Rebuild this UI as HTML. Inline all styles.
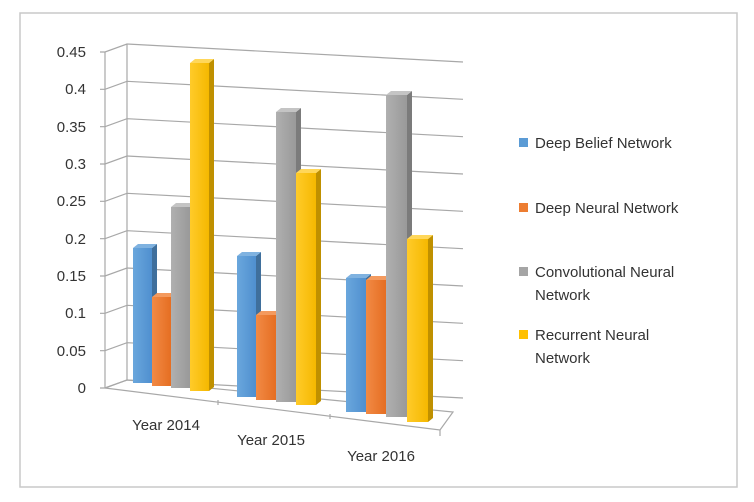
<!DOCTYPE html>
<html><head><meta charset="utf-8"><style>
html,body{margin:0;padding:0;background:#fff;}
svg{display:block;font-family:"Liberation Sans",sans-serif;}
</style></head><body>
<svg width="754" height="502" viewBox="0 0 754 502" xmlns="http://www.w3.org/2000/svg">
<rect x="20" y="13" width="717" height="474" fill="#fff" stroke="#c8c8c8" stroke-width="1.5"/>
<g stroke="#a8a8a8" stroke-width="1.2" fill="none">
<polyline points="100,388 105,388 127,380 463,398"/>
<polyline points="100,350.7 105,350.7 127,342.7 463,360.7"/>
<polyline points="100,313.3 105,313.3 127,305.3 463,323.3"/>
<polyline points="100,276 105,276 127,268 463,286"/>
<polyline points="100,238.7 105,238.7 127,230.7 463,248.7"/>
<polyline points="100,201.3 105,201.3 127,193.3 463,211.3"/>
<polyline points="100,164 105,164 127,156 463,174"/>
<polyline points="100,126.7 105,126.7 127,118.7 463,136.7"/>
<polyline points="100,89.3 105,89.3 127,81.3 463,99.3"/>
<polyline points="100,52 105,52 127,44 463,62"/>
<line x1="105" y1="52" x2="105" y2="388"/>
<line x1="127" y1="44" x2="127" y2="380"/>
<polygon points="105,388 127,380 453,412 440,430"/>
<line x1="218" y1="400" x2="218" y2="405"/>
<line x1="330" y1="414" x2="330" y2="419"/>
<line x1="440" y1="430" x2="440" y2="436"/>
</g>
<g font-size="15" fill="#333" text-anchor="end">
<text x="86" y="57">0.45</text><text x="86" y="94">0.4</text><text x="86" y="132">0.35</text>
<text x="86" y="169">0.3</text><text x="86" y="206">0.25</text><text x="86" y="244">0.2</text>
<text x="86" y="281">0.15</text><text x="86" y="318">0.1</text><text x="86" y="356">0.05</text>
<text x="86" y="393">0</text>
</g>
<g font-size="15" fill="#333" text-anchor="middle">
<text x="166" y="430">Year 2014</text><text x="271" y="445">Year 2015</text><text x="381" y="461">Year 2016</text>
</g>
<defs>
<linearGradient id="gb" x1="0" x2="1"><stop offset="0" stop-color="#6aa7dd"/><stop offset="1" stop-color="#4f8fcf"/></linearGradient>
<linearGradient id="go" x1="0" x2="1"><stop offset="0" stop-color="#f28a45"/><stop offset="1" stop-color="#e56e22"/></linearGradient>
<linearGradient id="gg" x1="0" x2="1"><stop offset="0" stop-color="#b0b0b0"/><stop offset="1" stop-color="#999"/></linearGradient>
<linearGradient id="gy" x1="0" x2="1"><stop offset="0" stop-color="#ffcb2a"/><stop offset="1" stop-color="#f5b800"/></linearGradient>
</defs>
<!-- bars: front rect, side, top -->
<g>
<!-- 2014 -->
<polygon points="152,248 157,244 157,379 152,383" fill="#3f6f9c"/><polygon points="133,248 138,244 157,244 152,248" fill="#7fb2e0"/><rect x="133" y="248" width="19" height="135" fill="url(#gb)"/>
<polygon points="171,297 176,293 176,382 171,386" fill="#ae5a21"/><polygon points="152,297 157,293 176,293 171,297" fill="#f49a5e"/><rect x="152" y="297" width="19" height="89" fill="url(#go)"/>
<polygon points="190,207 195,203 195,384 190,388" fill="#7b7b7b"/><polygon points="171,207 176,203 195,203 190,207" fill="#c4c4c4"/><rect x="171" y="207" width="19" height="181" fill="url(#gg)"/>
<polygon points="209,63 214,59 214,387 209,391" fill="#bf9000"/><polygon points="190,63 195,59 214,59 209,63" fill="#ffd75a"/><rect x="190" y="63" width="19" height="328" fill="url(#gy)"/>
<!-- 2015 -->
<polygon points="256,256 261,252 261,393 256,397" fill="#3f6f9c"/><polygon points="237,256 242,252 261,252 256,256" fill="#7fb2e0"/><rect x="237" y="256" width="19" height="141" fill="url(#gb)"/>
<polygon points="276,315 281,311 281,396 276,400" fill="#ae5a21"/><polygon points="256,315 261,311 281,311 276,315" fill="#f49a5e"/><rect x="256" y="315" width="20" height="85" fill="url(#go)"/>
<polygon points="296,112 301,108 301,398 296,402" fill="#7b7b7b"/><polygon points="276,112 281,108 301,108 296,112" fill="#c4c4c4"/><rect x="276" y="112" width="20" height="290" fill="url(#gg)"/>
<polygon points="316,173 321,169 321,401 316,405" fill="#bf9000"/><polygon points="296,173 301,169 321,169 316,173" fill="#ffd75a"/><rect x="296" y="173" width="20" height="232" fill="url(#gy)"/>
<!-- 2016 -->
<polygon points="366,278 371,274 371,408 366,412" fill="#3f6f9c"/><polygon points="346,278 351,274 371,274 366,278" fill="#7fb2e0"/><rect x="346" y="278" width="20" height="134" fill="url(#gb)"/>
<polygon points="386,280 391,276 391,410 386,414" fill="#ae5a21"/><polygon points="366,280 371,276 391,276 386,280" fill="#f49a5e"/><rect x="366" y="280" width="20" height="134" fill="url(#go)"/>
<polygon points="407,95 412,91 412,413 407,417" fill="#7b7b7b"/><polygon points="386,95 391,91 412,91 407,95" fill="#c4c4c4"/><rect x="386" y="95" width="21" height="322" fill="url(#gg)"/>
<polygon points="428,239 433,235 433,418 428,422" fill="#bf9000"/><polygon points="407,239 412,235 433,235 428,239" fill="#ffd75a"/><rect x="407" y="239" width="21" height="183" fill="url(#gy)"/>
</g>
<!-- legend -->
<rect x="519" y="138" width="9" height="9" fill="#5b9bd5"/>
<rect x="519" y="203" width="9" height="9" fill="#ed7d31"/>
<rect x="519" y="267" width="9" height="9" fill="#a5a5a5"/>
<rect x="519" y="330" width="9" height="9" fill="#ffc000"/>
<g font-size="15" fill="#333">
<text x="535" y="148">Deep Belief Network</text>
<text x="535" y="213">Deep Neural Network</text>
<text x="535" y="277">Convolutional Neural</text>
<text x="535" y="300">Network</text>
<text x="535" y="340">Recurrent Neural</text>
<text x="535" y="363">Network</text>
</g>
</svg>
</body></html>
